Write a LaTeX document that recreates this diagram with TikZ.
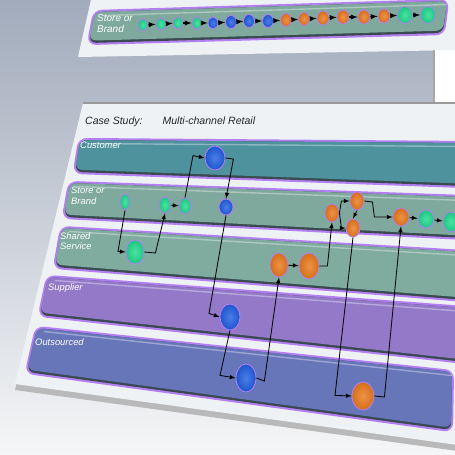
\documentclass[tikz,border=0pt]{standalone}
\usepackage{fontspec}
\setmainfont{Liberation Sans}
\usetikzlibrary{shapes.geometric}

\definecolor{bgtop}{HTML}{A1ABBB}
\definecolor{bgmid}{HTML}{C6CDD6}
\definecolor{bgbot}{HTML}{F5F6F7}
\definecolor{card}{HTML}{EEF2F4}
\definecolor{glow}{HTML}{B47FF2}
\definecolor{laneshadow}{HTML}{3A4A50}
\definecolor{custlane}{HTML}{4E929E}
\definecolor{storelane}{HTML}{7FA99C}
\definecolor{sharedlane}{HTML}{80AB9F}
\definecolor{supplane}{HTML}{9379C8}
\definecolor{outlane}{HTML}{6776B9}
\definecolor{mint}{HTML}{1FD98D}
\definecolor{royal}{HTML}{1F5DE0}
\definecolor{tangerine}{HTML}{E8781A}

% one swim lane: corners top left, top right, bottom right, bottom left
\newcommand{\lane}[5]{%
  \draw[lane glow] (#1) -- (#2) -- (#3) -- (#4) -- cycle;
  \fill[laneshadow, rounded corners=6pt] (#1) -- (#2) -- (#3) -- (#4) -- cycle;
  \fill[#5, rounded corners=6pt] (#1) -- (#2) -- ([yshift=2pt]#3) -- ([yshift=2pt]#4) -- cycle;
  \draw[white, opacity=0.35, line width=1.2pt] ([xshift=6pt,yshift=-3pt]#1) -- ([yshift=-3pt]#2);}

\begin{document}
\begin{tikzpicture}[x=0.03cm, y=-0.03cm,
    lane glow/.style={draw=glow, line width=3.5pt, rounded corners=6pt},
    oval/.style={ellipse, draw=glow, line width=0.7pt, inner sep=0pt},
    sz/.style 2 args={minimum width=#1*0.06cm, minimum height=#2*0.06cm},
    tint/.style={oval, inner color=#1!80!white, outer color=#1!92!black},
    grn/.style={tint=mint},
    blu/.style={tint=royal},
    org/.style={tint=tangerine},
    link/.style={-latex, line width=0.7pt},
    chain/.style={-latex, line width=1pt},
    lanelabel/.style={anchor=north west, align=left, inner sep=0pt, text=white,
      font=\itshape\fontsize{8}{9}\selectfont}]

  \useasboundingbox (0,0) rectangle (455,455);
  \clip (0,0) rectangle (455,455);

  % Background
  \shade[top color=bgtop, middle color=bgmid, bottom color=bgbot] (0,0) rectangle (455,455);

  % Previous slide
  \fill[card] (92,-5) -- (460,-5) -- (460,50) -- (78,57) -- cycle;
  \fill[white] (435,50) rectangle (460,104);
  \draw[gray!70, line width=1pt] (434,50) -- (434,104);
  \lane{95,12}{447,1}{443,33}{89,43}{storelane}
  \node[lanelabel, font=\itshape\fontsize{8.5}{9.5}\selectfont] (topbrand) at (97,14) {Store or\\Brand};
  \foreach \i/\x/\y/\c/\r/\s in {1/143/25/mint/5/6, 2/161/24/mint/5/6, 3/178/23/mint/5/6,
      4/197/23/mint/5/6, 5/213/23/royal/5/6, 6/231/22/royal/5.5/6.5, 7/249/21/royal/5.5/6.5,
      8/268/21/royal/5.5/6.5, 9/286/20/tangerine/5.5/6.5, 10/304/19/tangerine/5.5/6.5,
      11/323/18/tangerine/6/7, 12/343/17/tangerine/6/7, 13/364/17/tangerine/6/7,
      14/384/16/tangerine/6/7, 15/405/15/mint/7.5/8.5, 16/428/15/mint/7.5/8.5}
    \node[tint=\c, sz={\r}{\s}] (t\i) at (\x,\y) {};
  \foreach \i [count=\j from 2] in {1,...,15}
    \draw[chain] (t\i) -- (t\j);

  % Main slide
  \fill[gray!55] (83,106) -- (465,106) -- (465,452) -- (15,390) -- cycle;
  \fill[card] (83,103) -- (465,103) -- (465,446) -- (15,384) -- cycle;
  \draw[gray!80, line width=1pt] (83,103) -- (465,103);
  \node[anchor=west, inner sep=0pt, text=black!85, font=\itshape\fontsize{9}{11}\selectfont] (title) at (85,122)
    {Case Study:\hspace{17pt}Multi-channel Retail};

  % Lanes
  \lane{80,140}{465,143}{465,186}{75,172}{custlane}
  \lane{70,183}{465,197}{465,238}{64,217}{storelane}
  \lane{62,228}{465,252}{465,300}{55,267}{sharedlane}
  \lane{48,277}{465,308}{465,362}{40,315}{supplane}
  \lane{37,328}{452,372}{451,430}{27,372}{outlane}

  \node[lanelabel] (customer) at (80,142) {Customer};
  \node[lanelabel] (store) at (71,187) {Store or\\Brand};
  \node[lanelabel] (shared) at (60,232) {Shared\\Service};
  \node[lanelabel] (supplier) at (48,283) {Supplier};
  \node[lanelabel] (outsourced) at (35,338) {Outsourced};

  % Nodes
  \node[blu, sz={10}{12}] (cu1) at (215,158) {};
  \node[grn, sz={5}{8}] (sb1) at (125,202) {};
  \node[grn, sz={6}{8}] (sb2) at (165,205) {};
  \node[grn, sz={6}{8}] (sb3) at (185,206) {};
  \node[blu, sz={7}{8}] (sb4) at (226,207) {};
  \node[org, sz={7}{9}] (sb5) at (332,213) {};
  \node[org, sz={7}{9}] (sb6) at (357,201) {};
  \node[org, sz={7}{9}] (sb7) at (353,228) {};
  \node[org, sz={8}{9}] (sb8) at (401,217) {};
  \node[grn, sz={8}{9}] (sb9) at (426,219) {};
  \node[grn, sz={8}{10}] (sb10) at (451,222) {};
  \node[grn, sz={9}{12}] (ss1) at (135,252) {};
  \node[org, sz={9}{12}] (ss2) at (279,265) {};
  \node[org, sz={10}{13}] (ss3) at (309,266) {};
  \node[blu, sz={10}{13}] (su1) at (230,317) {};
  \node[blu, sz={10}{14}] (ou1) at (246,378) {};
  \node[org, sz={11}{14}] (ou2) at (363,396) {};

  % Links
  \draw[link] (sb1.south) -- ++(-7,41) -- (ss1.west);
  \draw[link] (ss1.east) -- ++(11,1) -- (sb2.south);
  \draw[link] (sb2) -- (sb3);
  \draw[link] (sb3.north) -- ++(8,-42) -- (cu1.west);
  \draw[link] (cu1.east) -- ++(8,1) -- (sb4.north);
  \draw[link] (sb4.south) -- ++(-17,98) -- (su1.west);
  \draw[link] (su1.south) -- ++(-10,45) -- (ou1.west);
  \draw[link] (ou1.east) -- ++(8,3) -- (ss2.south);
  \draw[link] (ss2) -- (ss3);
  \draw[link] (ss3.east) -- ++(8,0) -- (sb5.south);
  \draw[link] (sb5.east) -- ++(2,-12) -- (sb6.west);
  \draw[link] (sb5.east) -- ++(2,15) -- (sb7.west);
  \draw[link] (sb6.south) -- (sb7.north);
  \draw[link] (sb6.east) -- ++(8,1) -- ++(2,15) -- (sb8.west);
  \draw[link] (sb8) -- (sb9);
  \draw[link] (sb9) -- (sb10);
  \draw[link] (sb7.south) -- ++(-18,158) -- (ou2.west);
  \draw[link] (ou2.east) -- ++(10,1) -- (sb8.south);
\end{tikzpicture}
\end{document}
